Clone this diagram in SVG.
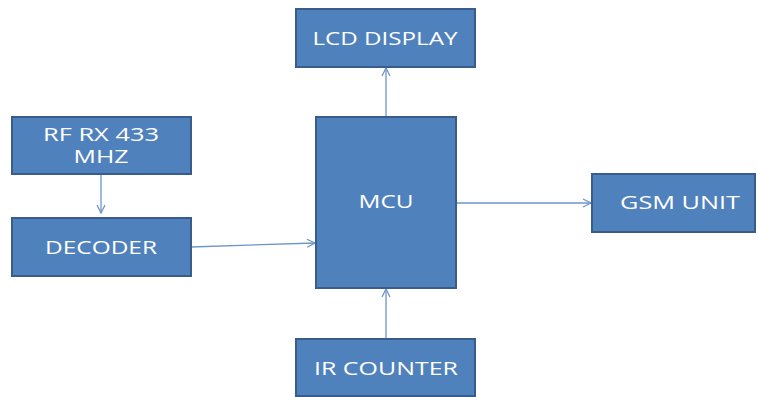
<svg xmlns="http://www.w3.org/2000/svg" width="758" height="397" viewBox="0 0 758 397">
<style>
.box{fill:#4F81BD;stroke:#385D8A;stroke-width:2}
.t{fill:#fff;font-family:"Open Sans","Liberation Sans",sans-serif;font-size:17.5px;text-anchor:middle}
.c{stroke:#6E95C8;stroke-width:1.3;fill:none;marker-end:url(#a)}
</style>
<defs>
<marker id="a" markerWidth="12" markerHeight="12" refX="9" refY="5" orient="auto" markerUnits="userSpaceOnUse">
<path d="M1,1 L9,5 L1,9" fill="none" stroke="#6E95C8" stroke-width="1.3"/>
</marker>
</defs>
<rect width="758" height="397" fill="#fff"/>
<g id="connectors">
<line class="c" x1="101" y1="175" x2="101" y2="213"/>
<line class="c" x1="191" y1="247" x2="315" y2="243"/>
<line class="c" x1="386" y1="116" x2="386" y2="68"/>
<line class="c" x1="386" y1="339" x2="386" y2="289"/>
<line class="c" x1="456" y1="203" x2="591" y2="203"/>
</g>
<g id="rf"><rect class="box" x="12" y="117" width="179" height="57"/><text class="t" x="101" y="141" textLength="116" lengthAdjust="spacingAndGlyphs">RF RX 433</text><text class="t" x="101" y="163" textLength="55" lengthAdjust="spacingAndGlyphs">MHZ</text></g>
<g id="decoder"><rect class="box" x="12" y="218" width="179" height="58"/><text class="t" x="101" y="254" textLength="112" lengthAdjust="spacingAndGlyphs">DECODER</text></g>
<g id="lcd"><rect class="box" x="296" y="9" width="179" height="58"/><text class="t" x="385" y="45" textLength="145" lengthAdjust="spacingAndGlyphs">LCD DISPLAY</text></g>
<g id="mcu"><rect class="box" x="316" y="117" width="140" height="171"/><text class="t" x="386" y="208" textLength="55" lengthAdjust="spacingAndGlyphs">MCU</text></g>
<g id="gsm"><rect class="box" x="592" y="174" width="163" height="58"/><text class="t" x="680" y="209" textLength="120" lengthAdjust="spacingAndGlyphs">GSM UNIT</text></g>
<g id="ir"><rect class="box" x="296" y="339" width="179" height="57"/><text class="t" x="386" y="375" textLength="144" lengthAdjust="spacingAndGlyphs">IR COUNTER</text></g>
</svg>
